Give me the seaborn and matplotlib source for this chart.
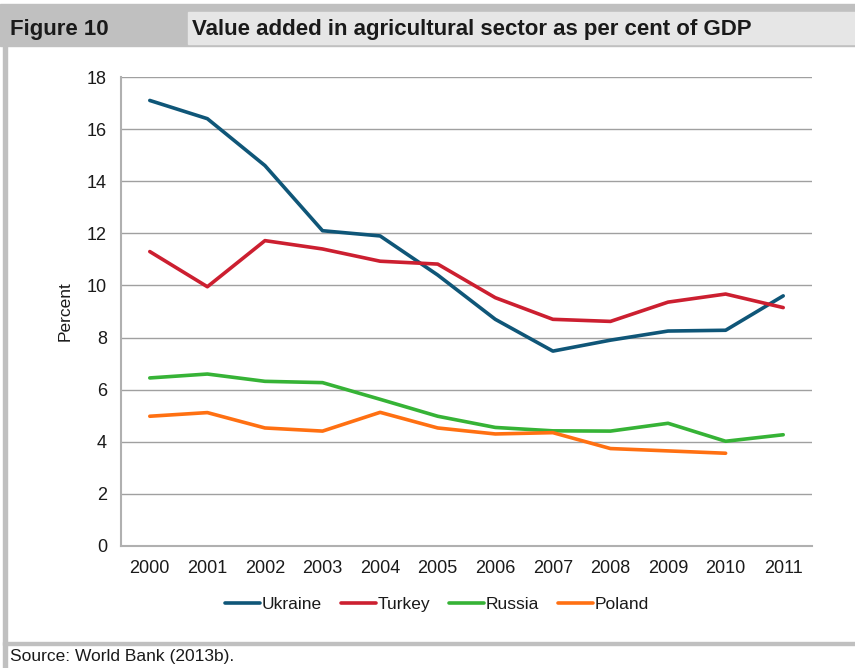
import pandas as pd
import seaborn as sns
import matplotlib.pyplot as plt
from matplotlib.patches import Rectangle
from matplotlib.lines import Line2D

# Valor agregado del sector agrícola (% del PIB)
years = [2000, 2001, 2002, 2003, 2004, 2005, 2006, 2007, 2008, 2009, 2010, 2011]
ukraine = [17.1, 16.4, 14.6, 12.1, 11.9, 10.4, 8.7, 7.48, 7.9, 8.25, 8.28, 9.6]
turkey = [11.3, 9.95, 11.72, 11.4, 10.93, 10.82, 9.53, 8.7, 8.62, 9.36, 9.67, 9.15]
russia = [6.45, 6.6, 6.32, 6.27, 5.63, 4.98, 4.55, 4.42, 4.41, 4.71, 4.02, 4.27]
poland = [4.98, 5.12, 4.53, 4.41, 5.13, 4.53, 4.3, 4.35, 3.74, 3.65, 3.56, None]
countries = ["Ukraine", "Turkey", "Russia", "Poland"]
colores = ["#0f5678", "#cc1f30", "#36b336", "#ff7012"]

df = pd.DataFrame({"Year": years, "Ukraine": ukraine, "Turkey": turkey,
                   "Russia": russia, "Poland": poland})
df_melted = df.melt(id_vars="Year", var_name="Country", value_name="Percent")

sns.set_style("white")
plt.rcParams["font.family"] = ["Liberation Sans", "DejaVu Sans"]
plt.rcParams["text.color"] = "#1a1a1a"

fig = plt.figure(figsize=(8.55, 6.68), dpi=100)
W, H = 855, 668

# marco y cabecera
fig.patches.append(Rectangle((0, 1 - 46 / H), 1, 42 / H, transform=fig.transFigure,
                             color="#c0c0c0", zorder=0))
fig.patches.append(Rectangle((188 / W, 1 - 44 / H), 1 - 188 / W, 32 / H,
                             transform=fig.transFigure, color="#e6e6e6", zorder=1))
fig.patches.append(Rectangle((3 / W, 0), 4 / W, 1 - 46 / H, transform=fig.transFigure,
                             color="#c0c0c0", zorder=0))
fig.patches.append(Rectangle((3 / W, 1 - 645 / H), 1 - 3 / W, 3 / H,
                             transform=fig.transFigure, color="#c0c0c0", zorder=0))
fig.text(10 / W, 1 - 30 / H, "Figure 10", fontsize=16, fontweight="bold", va="center")
fig.text(192 / W, 1 - 30 / H, "Value added in agricultural sector as per cent of GDP",
         fontsize=16, fontweight="bold", va="center")
fig.text(10 / W, 1 - 657 / H, "Source: World Bank (2013b).", fontsize=12.5, va="center")

ax = fig.add_axes([121 / W, 1 - 546 / H, (812 - 121) / W, (546 - 77) / H])
sns.lineplot(data=df_melted, x="Year", y="Percent", hue="Country", hue_order=countries,
             palette=colores, linewidth=2.6, ax=ax, legend=False)

ax.set_xlim(1999.5, 2011.5)
ax.set_ylim(0, 18)
ax.set_xticks(years)
ax.set_xticklabels([str(y) for y in years])
ax.set_yticks(range(0, 19, 2))
ax.tick_params(labelsize=13, length=0, pad=10, labelcolor="#1a1a1a")
ax.yaxis.grid(True, color="#a0a0a0", linewidth=1)
ax.set_axisbelow(True)
for s in ["top", "right"]:
    ax.spines[s].set_visible(False)
for s in ["left", "bottom"]:
    ax.spines[s].set_color("#b0b0b0")
    ax.spines[s].set_linewidth(1.5)
ax.set_xlabel("")
ax.set_ylabel("Percent", fontsize=12.5, labelpad=10, color="#1a1a1a")

handles = [Line2D([], [], color=c, linewidth=2.6) for c in colores]
fig.legend(handles, countries, loc="center", bbox_to_anchor=(437 / W, 1 - 604 / H),
           ncol=4, frameon=False, fontsize=12.5, handlelength=2.0, handletextpad=0.1,
           columnspacing=1.1)

plt.savefig("out.png", dpi=100)
